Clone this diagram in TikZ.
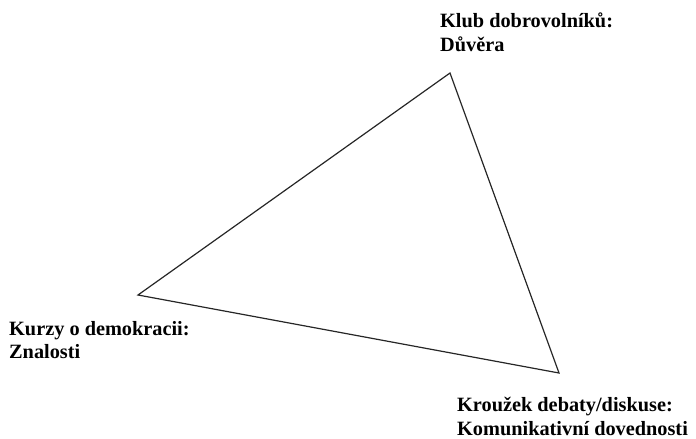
\documentclass[tikz,border=0pt]{standalone}
\usepackage{fontspec}
\setmainfont{Liberation Serif}
\tikzset{
  corner/.style={
    align=left, inner sep=0pt, anchor=north west,
    font=\fontsize{20.3}{23.5}\selectfont\bfseries
  },
  side/.style={draw=black!85, line width=1.2pt, line join=miter}
}
\begin{document}
\begin{tikzpicture}[x=1pt,y=-1pt]
  \useasboundingbox (0,0) rectangle (696,439);
  \coordinate (klub) at (450,73);
  \coordinate (kurzy) at (138,295);
  \coordinate (krouzek) at (559,373);
  \draw[side] (klub) -- (kurzy) -- (krouzek) -- cycle;
  \node[corner] (klubtext) at (440,13) {Klub dobrovolníků:\\Důvěra};
  \node[corner] (kurzytext) at (9,321) {Kurzy o demokracii:\\Znalosti};
  \node[corner] (krouzektext) at (457,397) {Kroužek debaty/diskuse:\\Komunikativní dovednosti};
\end{tikzpicture}
\end{document}
